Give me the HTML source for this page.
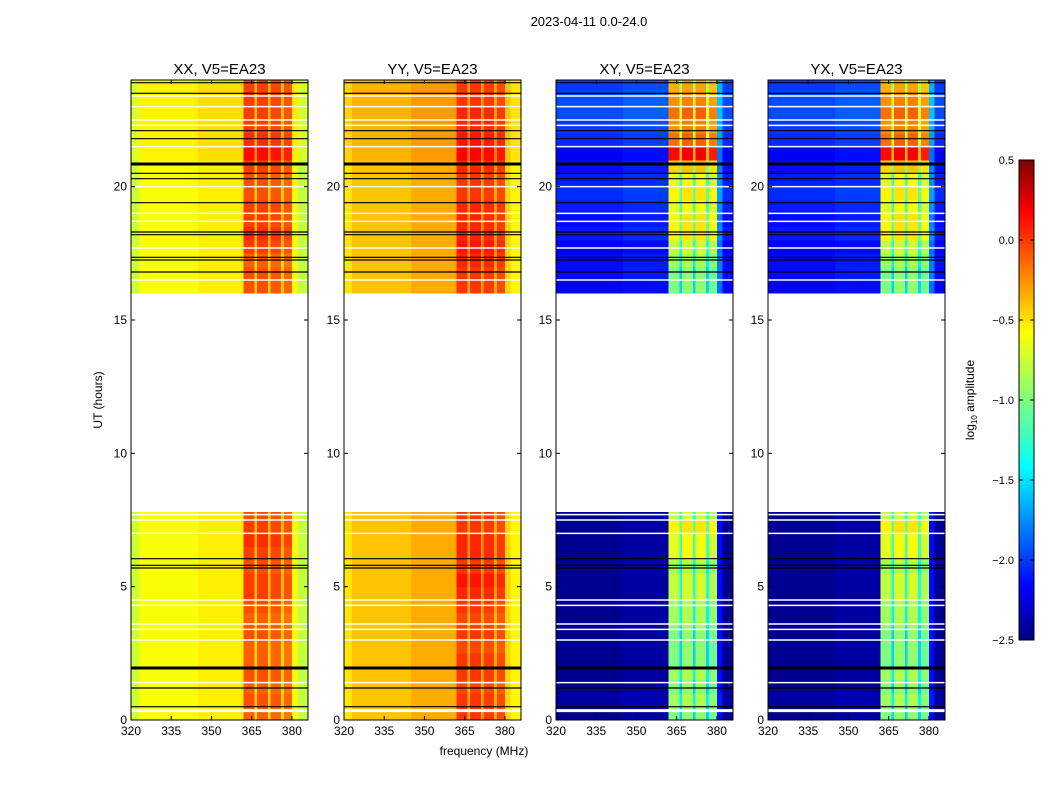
<!DOCTYPE html>
<html><head><meta charset="utf-8"><style>
body{margin:0;background:#fff;}
svg text{font-family:"Liberation Sans","DejaVu Sans",sans-serif;fill:#000;}
</style></head><body>
<svg id="fig" width="1050" height="800" viewBox="0 0 1050 800" xmlns="http://www.w3.org/2000/svg">
<rect width="1050" height="800" fill="#fff"/>
<text x="589" y="26" font-size="13" text-anchor="middle">2023-04-11 0.0-24.0</text>
<text x="484" y="755" font-size="12" text-anchor="middle">frequency (MHz)</text>
<text transform="translate(102,400) rotate(-90)" font-size="12" text-anchor="middle">UT (hours)</text>
<g id="panels"></g>
<defs><linearGradient id="jet" x1="0" y1="1" x2="0" y2="0">
<stop offset="0" stop-color="#00007f"/><stop offset="0.11" stop-color="#0000ff"/><stop offset="0.36" stop-color="#00ffff"/><stop offset="0.5" stop-color="#7fff7f"/><stop offset="0.64" stop-color="#ffff00"/><stop offset="0.89" stop-color="#ff0000"/><stop offset="1" stop-color="#7f0000"/></linearGradient></defs>
<g>
<rect x="1019" y="160" width="15" height="480" fill="url(#jet)" stroke="#000" stroke-width="1"/>
<g id="cbticks"></g>
<text transform="translate(974,400) rotate(-90)" font-size="12" text-anchor="middle">log<tspan font-size="8" dy="3">10</tspan><tspan dy="-3"> amplitude</tspan></text>
</g>
</svg>
<script>
// frequency segment edges (MHz)
const freqEdges=[320,323,345,362,366,367,371,372,376,377,380,382,386];
// log10 amplitude per frequency segment, per panel
const xxCols=[-0.78,-0.64,-0.58,-0.15,-0.52,-0.15,-0.52,-0.18,-0.52,-0.22,-0.62,-0.8];
const yyCols=[-0.55,-0.45,-0.38,-0.08,-0.42,-0.08,-0.42,-0.1,-0.42,-0.14,-0.5,-0.6];
const xyCols=[-2.45,-2.45,-2.4,-1.0,-1.5,-0.95,-1.5,-0.95,-1.5,-1.05,-2.1,-2.45];
const yxCols=[-2.45,-2.45,-2.4,-1.0,-1.5,-0.95,-1.5,-0.95,-1.5,-1.05,-2.1,-2.45];
const bandRange=[361.5,381];
// time bins of 0.5 h; values only used in observed segments
const dataSegments=[[0,7.8],[16,24]];
const xxBandRow=[0,0.05,0,0.05,0,0,0.05,0,0.05,0.1,0.1,0.05,0.1,0.15,0.1,0.05, 0,0,0,0,0,0,0,0,0,0,0,0,0,0,0,0, 0.05,0.05,0,0.1,0.15,0.1,0.1,0.05,0.05,0.1,0.25,0.15,0.1,0.1,0.1,0.1];
const yyBandRow=[0.05,0.05,0,0.05,0.05,0,0.05,0,0.05,0.1,0.15,0.05,0.1,0.1,0.05,0.05, 0,0,0,0,0,0,0,0,0,0,0,0,0,0,0,0, 0.05,0.05,0.1,0.15,0.1,0.1,0.1,0.05,0.05,0.1,0.2,0.15,0.1,0.1,0.05,0.05];
const xyBandRow=[0,0.1,0,0.1,0,0,0,0.1,0.1,0.2,0.2,0.1,0.3,0.3,0.4,0.2, 0,0,0,0,0,0,0,0,0,0,0,0,0,0,0,0, 0,0,0.1,0.2,0.4,0.4,0.3,0.4,0.3,0.5,1.1,0.8,0.7,0.8,0.7,0.6];
const yxBandRow=[0,0.1,0,0.1,0,0,0,0.1,0.1,0.2,0.2,0.1,0.3,0.3,0.4,0.2, 0,0,0,0,0,0,0,0,0,0,0,0,0,0,0,0, 0,0,0.1,0.2,0.4,0.4,0.3,0.4,0.3,0.5,1.1,0.8,0.7,0.8,0.7,0.6];
const parBgRow=[0,0,0,0,0,0,0,0,0,0,0,0,0,0,0,0, 0,0,0,0,0,0,0,0,0,0,0,0,0,0,0,0, 0,0,0,0,0,0,0,0,0,0,0.05,0.05,0.05,0.05,0.05,0.05];
const crossBgRow=[0,0.05,0,0,0,0,0,0,0,0,0,0,0,0,0,0.05, 0,0,0,0,0,0,0,0,0,0,0,0,0,0,0,0, 0.3,0.35,0.35,0.3,0.4,0.35,0.4,0.45,0.4,0.35,0.3,0.45,0.5,0.55,0.55,0.5];
// flagged times (hours)
const blackLines=[0.5,1.2,5.7,5.8,6.05,16.8,17.25,17.35,18.2,18.3,19.4,20.3,20.5,21.8,22.1,23.5,23.9];
const thickBlack=[1.95,20.85];
const whiteLines=[0.35,1.4,3.0,3.4,3.6,4.3,4.5,7.0,7.5,7.7,16.5,17.7,18.7,19.0,20.0,21.5,22.3,22.5,23.0,23.4];
const panelTitles=["XX, V5=EA23","YY, V5=EA23","XY, V5=EA23","YX, V5=EA23"];
const xTicks=[320,335,350,365,380];
const yTicks=[0,5,10,15,20];
const cbTicks=[0.5,0.0,-0.5,-1.0,-1.5,-2.0,-2.5];

const panelLefts=[131,344,556,768];
const PW=177, TOP=80, BOT=720, FMIN=320, FMAX=386, TMAX=24;
const NS="http://www.w3.org/2000/svg";
function jet(v){let t=(v+2.5)/3;t=Math.max(0,Math.min(1,t));
 const f=(x)=>Math.max(0,Math.min(1,1.5-Math.abs(4*t-x)));
 return `rgb(${Math.round(255*f(3))},${Math.round(255*f(2))},${Math.round(255*f(1))})`;}
function mk(tag,attrs,parent){const e=document.createElementNS(NS,tag);for(const k in attrs)e.setAttribute(k,attrs[k]);parent.appendChild(e);return e;}
const yS=t=>BOT-(t/TMAX)*(BOT-TOP);
const root=document.getElementById('panels');
const cols=[xxCols,yyCols,xyCols,yxCols];
const bandRows=[xxBandRow,yyBandRow,xyBandRow,yxBandRow];
const bgRows=[parBgRow,parBgRow,crossBgRow,crossBgRow];
panelLefts.forEach((L,p)=>{
 const xS=f=>L+(f-FMIN)/(FMAX-FMIN)*PW;
 const g=mk('g',{},root);
 
 
 const hm=mk('g',{'shape-rendering':'crispEdges'},g);
 
 
 for(let i=0;i<bandRows[p].length;i++){
  const t0=i*0.5,t1=t0+0.5;
  dataSegments.forEach(seg=>{
   const a=Math.max(t0,seg[0]),b=Math.min(t1,seg[1]);
   if(b<=a)return;
   for(let j=0;j<cols[p].length;j++){
    const f0=freqEdges[j],f1=freqEdges[j+1];
    const inBand=f0>=bandRange[0]-0.6&&f1<=bandRange[1]+0.1;
    const v=cols[p][j]+(inBand?bandRows[p][i]:bgRows[p][i]);
    const r=mk('rect',{x:xS(f0),y:yS(b),width:xS(f1)-xS(f0)+0.3,height:yS(a)-yS(b)+0.3,fill:jet(v)},hm);
    
    
   }
  });
 }
 whiteLines.forEach(t=>{const l=mk('line',{x1:L,x2:L+PW,y1:yS(t),y2:yS(t),stroke:'#fff','stroke-width':t===0.35?3:1.5},g);
  });
 blackLines.forEach(t=>{const l=mk('line',{x1:L,x2:L+PW,y1:yS(t),y2:yS(t),stroke:'#000','stroke-width':1.2},g);
  });
 thickBlack.forEach(t=>{const l=mk('line',{x1:L,x2:L+PW,y1:yS(t),y2:yS(t),stroke:'#000','stroke-width':3},g);
  });
 const fr=mk('rect',{x:L,y:TOP,width:PW,height:BOT-TOP,fill:'none',stroke:'#000','stroke-width':1},g);
 
 const tt=mk('text',{x:L+PW/2,y:TOP-6,'font-size':15,'text-anchor':'middle'},g);tt.textContent=panelTitles[p];
 
 xTicks.forEach(f=>{const x=xS(f);
  mk('line',{x1:x,x2:x,y1:BOT,y2:BOT-4,stroke:'#000'},g);mk('line',{x1:x,x2:x,y1:TOP,y2:TOP+4,stroke:'#000'},g);
  const t=mk('text',{x:x,y:BOT+15,'font-size':12,'text-anchor':'middle'},g);t.textContent=f;
  });
 yTicks.forEach(v=>{const y=yS(v);
  mk('line',{x1:L,x2:L+4,y1:y,y2:y,stroke:'#000'},g);mk('line',{x1:L+PW,x2:L+PW-4,y1:y,y2:y,stroke:'#000'},g);
  const t=mk('text',{x:L-4,y:y+4,'font-size':12,'text-anchor':'end'},g);t.textContent=v;
  });
});
const cb=document.getElementById('cbticks');
cbTicks.forEach(v=>{const y=640-(v+2.5)/3*480;
 mk('line',{x1:1019,x2:1023,y1:y,y2:y,stroke:'#000'},cb);mk('line',{x1:1034,x2:1030,y1:y,y2:y,stroke:'#000'},cb);
 const t=mk('text',{x:1014,y:y+4,'font-size':11,'text-anchor':'end'},cb);t.textContent=v.toFixed(1).replace('-','\u2212');
 });
</script>
</body></html>
